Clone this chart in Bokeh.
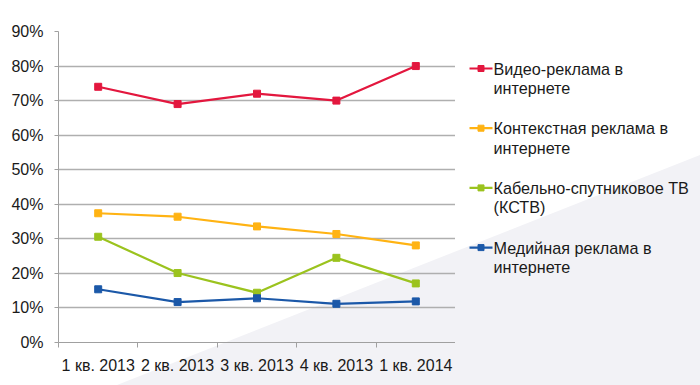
from bokeh.plotting import figure
from bokeh.layouts import row
from bokeh.models import FixedTicker, ColumnDataSource
from bokeh.core.properties import value
from bokeh.embed import file_html
from bokeh.resources import INLINE

quarters = ["1 кв. 2013", "2 кв. 2013", "3 кв. 2013", "4 кв. 2013", "1 кв. 2014"]
video = [74, 69, 72, 70, 80]
context = [37.4, 36.4, 33.6, 31.4, 28.1]
cable = [30.6, 20.1, 14.4, 24.5, 17.1]
media = [15.4, 11.7, 12.8, 11.2, 11.9]
series_names = ["Видео-реклама в\nинтернете",
                "Контекстная реклама в\nинтернете",
                "Кабельно-спутниковое ТВ\n(КСТВ)",
                "Медийная реклама в\nинтернете"]
series_colors = ["#e3173e", "#ffb313", "#9bc31e", "#1b58a8"]
y_ticks = [0, 10, 20, 30, 40, 50, 60, 70, 80, 90]

FONT = "Liberation Sans"
TEXT_COLOR = "#1a1a1a"
AXIS_COLOR = "#a0a0a0"
TOP, BOTTOM = 31, 43          # borders above / below the plotting frame
W_MAIN, W_LEG, H = 455, 245, 385
xs = [i + 1 for i in range(len(quarters))]

# ---------------- main chart ----------------
p = figure(width=W_MAIN, height=H, x_range=(0.5, len(quarters) + 0.5), y_range=(0, 90),
           output_backend="svg", toolbar_location=None, title=None,
           min_border_left=58, min_border_right=0, min_border_top=TOP, min_border_bottom=BOTTOM)
p.outline_line_color = None
p.background_fill_color = None
p.border_fill_color = None

p.xgrid.grid_line_color = None
p.ygrid.grid_line_color = "#afafaf"
p.ygrid.grid_line_width = 1.3
p.ygrid.ticker = FixedTicker(ticks=y_ticks)

p.yaxis.ticker = FixedTicker(ticks=y_ticks)
p.yaxis.major_label_overrides = {t: f"{t}%" for t in y_ticks}
p.yaxis.axis_line_color = AXIS_COLOR
p.yaxis.major_tick_line_color = AXIS_COLOR
p.yaxis.major_tick_out = 4
p.yaxis.major_tick_in = 0
p.yaxis.minor_tick_line_color = None
p.yaxis.major_label_standoff = 11

p.xaxis.ticker = FixedTicker(ticks=xs, minor_ticks=[x - 0.5 for x in xs] + [xs[-1] + 0.5])
p.xaxis.major_label_overrides = {x: q for x, q in zip(xs, quarters)}
p.xaxis.axis_line_color = AXIS_COLOR
p.xaxis.major_tick_line_color = None
p.xaxis.minor_tick_line_color = AXIS_COLOR
p.xaxis.minor_tick_out = 5
p.xaxis.minor_tick_in = 0
p.xaxis.major_label_standoff = 8

for ax in (p.xaxis[0], p.yaxis[0]):
    ax.major_label_text_font = FONT
    ax.major_label_text_font_size = "16px"
    ax.major_label_text_color = TEXT_COLOR

all_series = [video, context, cable, media]
for col, vals in zip(series_colors, all_series):
    src = ColumnDataSource(dict(x=xs, y=vals))
    p.line("x", "y", source=src, line_color=col, line_width=2.2)
    p.scatter("x", "y", source=src, marker="square", size=7, fill_color=col, line_color=col)

# ---------------- legend panel (pixel coordinates) ----------------
# the row aligns this panel's frame with the chart frame, so map page pixels onto it
lf = figure(width=W_LEG, height=H, x_range=(0, W_LEG), y_range=(H - BOTTOM, TOP),
            output_backend="svg", toolbar_location=None, title=None,
            x_axis_location=None, y_axis_location=None,
            min_border_left=0, min_border_right=0, min_border_top=TOP, min_border_bottom=BOTTOM)
lf.outline_line_color = None
lf.background_fill_color = None
lf.border_fill_color = None
lf.grid.visible = False

first_y, item_step, line_step = 68, 59.7, 19.3
gx0, gx1, tx = 14, 37, 38
n = len(series_names)
item_y = [first_y + i * item_step for i in range(n)]
lf.segment(x0=[gx0] * n, y0=item_y, x1=[gx1] * n, y1=item_y, line_color=series_colors, line_width=2.2)
lf.scatter(x=[(gx0 + gx1) / 2] * n, y=item_y, marker="square", size=6,
           fill_color=series_colors, line_color=series_colors)

t_x, t_y, t_s = [], [], []
for name, y0 in zip(series_names, item_y):
    for k, part in enumerate(name.split("\n")):
        t_x.append(tx)
        t_y.append(y0 + k * line_step)
        t_s.append(part)
lf.text(x=t_x, y=t_y, text=t_s, text_font=value(FONT), text_font_size="16.2px",
        text_color=TEXT_COLOR, text_baseline="middle", text_align="left")

layout = row(p, lf, width=W_MAIN + W_LEG, height=H)
# decorative light diagonal background shape behind the whole chart
bg_svg = ("data:image/svg+xml,%3Csvg xmlns='http://www.w3.org/2000/svg' width='700' height='385'%3E"
          "%3Cpolygon points='117,385 700,155 700,385' fill='%23f2f2f6'/%3E%3C/svg%3E")
layout.styles = {"background-image": f'url("{bg_svg}")', "background-repeat": "no-repeat",
                 "background-size": "700px 385px", "background-position": "0 0"}

open("out.html", "w").write(file_html(layout, INLINE))
